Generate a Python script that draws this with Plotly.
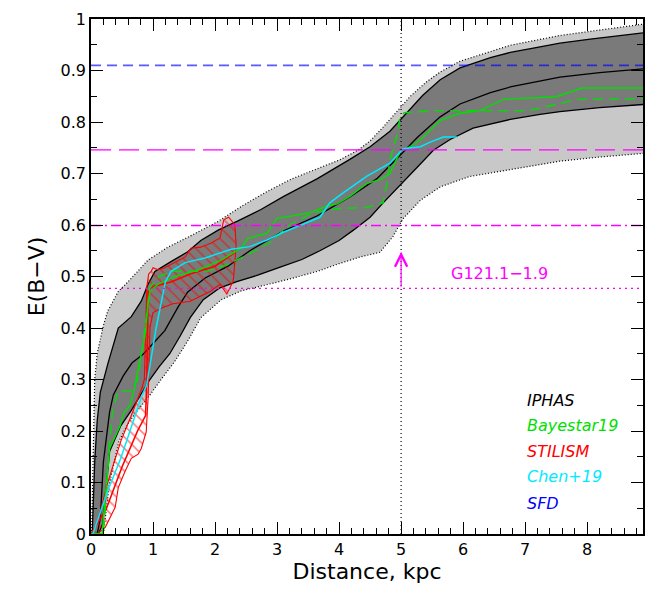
import plotly.graph_objects as go

# IPHAS extinction profile: median, 1-sigma (inner) and 2-sigma (outer) envelopes
iphas_outer_up_x = [0.01, 0.03, 0.06, 0.1, 0.15, 0.2, 0.27, 0.44, 0.6, 0.76, 0.92, 1.24, 1.56, 2.05, 2.45, 2.84, 3.21, 3.58, 4.02, 4.3, 4.5, 4.71, 4.98, 5.15, 5.4, 5.63, 5.95, 6.4, 6.76, 7.56, 8.2, 8.9]
iphas_outer_up_y = [0.0, 0.15, 0.30, 0.35, 0.38, 0.405, 0.433, 0.471, 0.49, 0.51, 0.532, 0.557, 0.576, 0.607, 0.638, 0.665, 0.688, 0.706, 0.727, 0.745, 0.763, 0.79, 0.826, 0.85, 0.877, 0.897, 0.918, 0.935, 0.949, 0.968, 0.978, 0.99]

iphas_outer_lo_x = [0.2, 0.3, 0.45, 0.6, 0.75, 0.92, 1.13, 1.35, 1.56, 1.77, 2.1, 2.42, 2.8, 3.2, 3.65, 4.0, 4.34, 4.66, 4.87, 5.03, 5.31, 5.63, 6.1, 6.76, 7.56, 8.2, 8.9]
iphas_outer_lo_y = [0.0, 0.1, 0.18, 0.215, 0.24, 0.265, 0.3, 0.335, 0.375, 0.42, 0.455, 0.472, 0.483, 0.495, 0.51, 0.525, 0.538, 0.547, 0.578, 0.612, 0.648, 0.674, 0.694, 0.708, 0.724, 0.732, 0.739]

iphas_inner_up_x = [0.02, 0.03, 0.06, 0.1, 0.15, 0.27, 0.44, 0.65, 0.81, 0.92, 1.03, 1.29, 1.56, 1.77, 2.05, 2.37, 2.74, 3.1, 3.65, 4.18, 4.5, 4.82, 5.1, 5.35, 5.63, 5.95, 6.44, 6.76, 7.24, 7.56, 8.05, 8.9]
iphas_inner_up_y = [0.0, 0.03, 0.14, 0.22, 0.275, 0.33, 0.40, 0.422, 0.452, 0.485, 0.51, 0.529, 0.548, 0.57, 0.59, 0.608, 0.63, 0.655, 0.69, 0.728, 0.752, 0.782, 0.818, 0.852, 0.882, 0.905, 0.925, 0.935, 0.946, 0.953, 0.961, 0.973]

iphas_inner_lo_x = [0.12, 0.19, 0.3, 0.48, 0.65, 0.8, 0.95, 1.1, 1.27, 1.44, 1.6, 1.81, 2.08, 2.35, 2.7, 3.05, 3.4, 3.69, 4.0, 4.23, 4.5, 4.71, 4.98, 5.26, 5.52, 5.79, 6.16, 6.5, 6.76, 7.24, 7.56, 8.2, 8.9]
iphas_inner_lo_y = [0.0, 0.02, 0.16, 0.21, 0.24, 0.27, 0.30, 0.325, 0.35, 0.385, 0.42, 0.455, 0.478, 0.49, 0.503, 0.518, 0.533, 0.55, 0.57, 0.59, 0.615, 0.643, 0.676, 0.712, 0.745, 0.766, 0.788, 0.798, 0.805, 0.815, 0.82, 0.828, 0.834]

iphas_med_x = [0.1, 0.15, 0.2, 0.3, 0.36, 0.52, 0.66, 0.85, 1.0, 1.19, 1.4, 1.56, 1.84, 2.21, 2.56, 3.1, 3.65, 4.18, 4.61, 4.82, 4.98, 5.26, 5.63, 5.95, 6.44, 6.76, 7.24, 7.56, 8.2, 8.9]
iphas_med_y = [0.0, 0.03, 0.14, 0.237, 0.27, 0.307, 0.332, 0.35, 0.37, 0.395, 0.44, 0.47, 0.497, 0.52, 0.55, 0.588, 0.618, 0.655, 0.69, 0.715, 0.735, 0.77, 0.81, 0.835, 0.857, 0.868, 0.88, 0.887, 0.896, 0.903]

# Bayestar19: best fit (solid) and median sample (dashed)
bayes_x = [0.0, 0.18, 0.22, 0.3, 0.47, 0.52, 0.63, 0.71, 0.76, 0.87, 0.92, 0.95, 1.08, 1.35, 1.73, 2.1, 2.42, 2.53, 2.84, 3.0, 3.26, 3.53, 3.81, 3.97, 4.18, 4.45, 4.66, 4.82, 4.98, 5.15, 5.31, 5.63, 5.95, 6.27, 6.65, 7.5, 7.92, 8.9]
bayes_y = [0.0, 0.0, 0.06, 0.166, 0.21, 0.233, 0.25, 0.288, 0.32, 0.384, 0.447, 0.471, 0.485, 0.5, 0.513, 0.532, 0.555, 0.574, 0.584, 0.613, 0.618, 0.624, 0.637, 0.641, 0.656, 0.681, 0.688, 0.7, 0.742, 0.752, 0.765, 0.803, 0.817, 0.822, 0.844, 0.849, 0.866, 0.866]

bayes_med_x = [0.0, 0.2, 0.25, 0.3, 0.35, 0.44, 0.65, 0.75, 0.85, 0.92, 0.95, 1.1, 1.3, 1.87, 2.2, 2.73, 2.9, 3.2, 3.58, 4.0, 4.45, 4.71, 4.77, 4.82, 4.94, 4.98, 5.05, 5.5, 7.05, 7.35, 7.85, 8.9]
bayes_med_y = [0.0, 0.0, 0.08, 0.18, 0.24, 0.278, 0.278, 0.3, 0.38, 0.45, 0.48, 0.5, 0.51, 0.51, 0.523, 0.555, 0.567, 0.6, 0.624, 0.632, 0.634, 0.643, 0.681, 0.727, 0.777, 0.809, 0.818, 0.822, 0.822, 0.83, 0.844, 0.845]

# STILISM: uncertainty envelope (upper edge then lower edge back) and profile
stilism_up_x = [0.0, 0.1, 0.27, 0.48, 0.65, 0.81, 0.86, 0.88, 0.90, 0.93, 0.97, 1.0, 1.08, 1.19, 1.35, 1.52, 1.61, 1.77, 1.94, 2.08, 2.14, 2.22, 2.32, 2.34, 2.3, 2.29]
stilism_up_y = [0.0, 0.02, 0.10, 0.18, 0.23, 0.28, 0.30, 0.40, 0.48, 0.505, 0.51, 0.517, 0.513, 0.517, 0.527, 0.538, 0.555, 0.557, 0.565, 0.575, 0.61, 0.615, 0.60, 0.56, 0.50, 0.49]
stilism_lo_x = [2.19, 2.08, 1.92, 1.6, 1.32, 1.16, 1.0, 0.95, 0.93, 0.92, 0.89, 0.81, 0.76, 0.65, 0.55, 0.48, 0.44, 0.39, 0.23, 0.1, 0.0]
stilism_lo_y = [0.466, 0.485, 0.471, 0.452, 0.447, 0.44, 0.43, 0.40, 0.30, 0.262, 0.198, 0.166, 0.155, 0.147, 0.122, 0.103, 0.09, 0.052, 0.013, 0.0, 0.0]
stilism_x = [0.0, 0.25, 0.5, 0.75, 0.88, 0.9, 0.92, 1.0, 1.3, 1.6, 2.0, 2.3]
stilism_y = [0.0, 0.05, 0.13, 0.2, 0.23, 0.3, 0.47, 0.48, 0.49, 0.505, 0.52, 0.545]

# Chen et al. (2019)
chen_x = [0.03, 0.15, 0.27, 0.48, 0.65, 0.81, 0.9, 1.05, 1.2, 1.29, 1.52, 1.84, 2.26, 2.56, 2.84, 3.1, 3.37, 3.69, 3.85, 4.06, 4.45, 4.82, 5.03, 5.31, 5.47, 5.68, 5.9]
chen_y = [0.0, 0.04, 0.084, 0.147, 0.21, 0.265, 0.29, 0.40, 0.49, 0.51, 0.527, 0.536, 0.553, 0.558, 0.571, 0.586, 0.599, 0.615, 0.643, 0.662, 0.695, 0.72, 0.748, 0.752, 0.761, 0.771, 0.771]

# Reference levels
sfd_level = 0.91
snr_levels = [0.746, 0.599, 0.477]
snr_dashes = ["20px,8px", "10px,4px,2px,4px", "2px,4px"]
snr_distance = 5.0
arrow_top = 0.548
snr_name = "G121.1\u22121.9"

legend_names = ["IPHAS", "Bayestar19", "STILISM", "Chen+19", "SFD"]
legend_colors = ["black", "#00e000", "red", "#00eaff", "blue"]
legend_y = [0.26, 0.211, 0.16, 0.111, 0.059]

GREEN = "#00e000"
CYAN = "#00eaff"
FONT = "DejaVu Sans"
X_MAX = 8.9

fig = go.Figure()

# outer (light grey) envelope
fig.add_trace(go.Scatter(
    x=iphas_outer_up_x + iphas_outer_lo_x[::-1],
    y=iphas_outer_up_y + iphas_outer_lo_y[::-1],
    fill="toself", fillcolor="#c8c8c8", mode="lines",
    line=dict(width=0), hoverinfo="skip"))
# inner (dark grey) envelope
fig.add_trace(go.Scatter(
    x=iphas_inner_up_x + iphas_inner_lo_x[::-1],
    y=iphas_inner_up_y + iphas_inner_lo_y[::-1],
    fill="toself", fillcolor="#7a7a7a", mode="lines",
    line=dict(width=0), hoverinfo="skip"))

for xs, ys in [(iphas_outer_up_x, iphas_outer_up_y), (iphas_outer_lo_x, iphas_outer_lo_y)]:
    fig.add_trace(go.Scatter(x=xs, y=ys, mode="lines",
                             line=dict(color="black", width=1.2, dash="1px,2px")))
for xs, ys in [(iphas_inner_up_x, iphas_inner_up_y), (iphas_inner_lo_x, iphas_inner_lo_y),
               (iphas_med_x, iphas_med_y)]:
    fig.add_trace(go.Scatter(x=xs, y=ys, mode="lines",
                             line=dict(color="black", width=1.3)))

# STILISM hatched envelope
fig.add_trace(go.Scatter(
    x=stilism_up_x + stilism_lo_x, y=stilism_up_y + stilism_lo_y,
    fill="toself", fillcolor="rgba(0,0,0,0)", mode="lines",
    line=dict(color="red", width=1.1),
    fillpattern=dict(shape="\\", fgcolor="red", bgcolor="rgba(0,0,0,0)",
                     size=8, solidity=0.2, fillmode="overlay")))
fig.add_trace(go.Scatter(x=stilism_x, y=stilism_y, mode="lines",
                         line=dict(color="red", width=1.6)))

fig.add_trace(go.Scatter(x=bayes_x, y=bayes_y, mode="lines",
                         line=dict(color=GREEN, width=1.4)))
fig.add_trace(go.Scatter(x=bayes_med_x, y=bayes_med_y, mode="lines",
                         line=dict(color=GREEN, width=1.4, dash="10px,6px")))
fig.add_trace(go.Scatter(x=chen_x, y=chen_y, mode="lines",
                         line=dict(color=CYAN, width=1.5)))

# SFD and SNR reference levels
fig.add_trace(go.Scatter(x=[0, X_MAX], y=[sfd_level, sfd_level], mode="lines",
                         line=dict(color="rgba(0,0,255,0.65)", width=1.6, dash="10px,6px")))
for lvl, dsh in zip(snr_levels, snr_dashes):
    fig.add_trace(go.Scatter(x=[0, X_MAX], y=[lvl, lvl], mode="lines",
                             line=dict(color="#ff00ff", width=1.3, dash=dsh)))
fig.add_trace(go.Scatter(x=[snr_distance, snr_distance], y=[0, 1], mode="lines",
                         line=dict(color="black", width=1.2, dash="1px,3px")))

annotations = [
    dict(x=snr_distance, y=arrow_top, ax=snr_distance, ay=snr_levels[2],
         xref="x", yref="y", axref="x", ayref="y", text="", showarrow=True,
         arrowhead=5, arrowsize=2, arrowwidth=1.2, arrowcolor="#ff00ff"),
    dict(x=6.58, y=0.506, xref="x", yref="y", text=snr_name, showarrow=False,
         font=dict(family=FONT, size=16, color="#ff00ff")),
]
for name, col, yy in zip(legend_names, legend_colors, legend_y):
    annotations.append(dict(x=7.0, y=yy, xref="x", yref="y", xanchor="left",
                            text="<i>" + name + "</i>", showarrow=False,
                            font=dict(family=FONT, size=16, color=col)))

axis_common = dict(showline=True, linecolor="black", linewidth=1.6, mirror="allticks",
                   ticks="inside", ticklen=12, tickwidth=1.2, tickcolor="black",
                   showgrid=False, zeroline=False,
                   tickfont=dict(family=FONT, size=16, color="black"))

fig.update_layout(
    width=663, height=597,
    margin=dict(l=91, r=20, t=10, b=63),
    plot_bgcolor="white", paper_bgcolor="white",
    showlegend=False,
    annotations=annotations,
    xaxis=dict(range=[0, X_MAX], dtick=1, tick0=0,
               minor=dict(ticks="inside", dtick=0.2, ticklen=6, tickcolor="black", tickwidth=1.1),
               title=dict(text="Distance, kpc", font=dict(family=FONT, size=22, color="black"),
                          standoff=6),
               **axis_common),
    yaxis=dict(range=[0, 1], dtick=0.1, tick0=0,
               minor=dict(ticks="inside", dtick=0.05, ticklen=6, tickcolor="black", tickwidth=1.1),
               title=dict(text="E(B\u2212V)", font=dict(family=FONT, size=22, color="black"),
                          standoff=10),
               **axis_common),
)

fig.write_html("out.html")
